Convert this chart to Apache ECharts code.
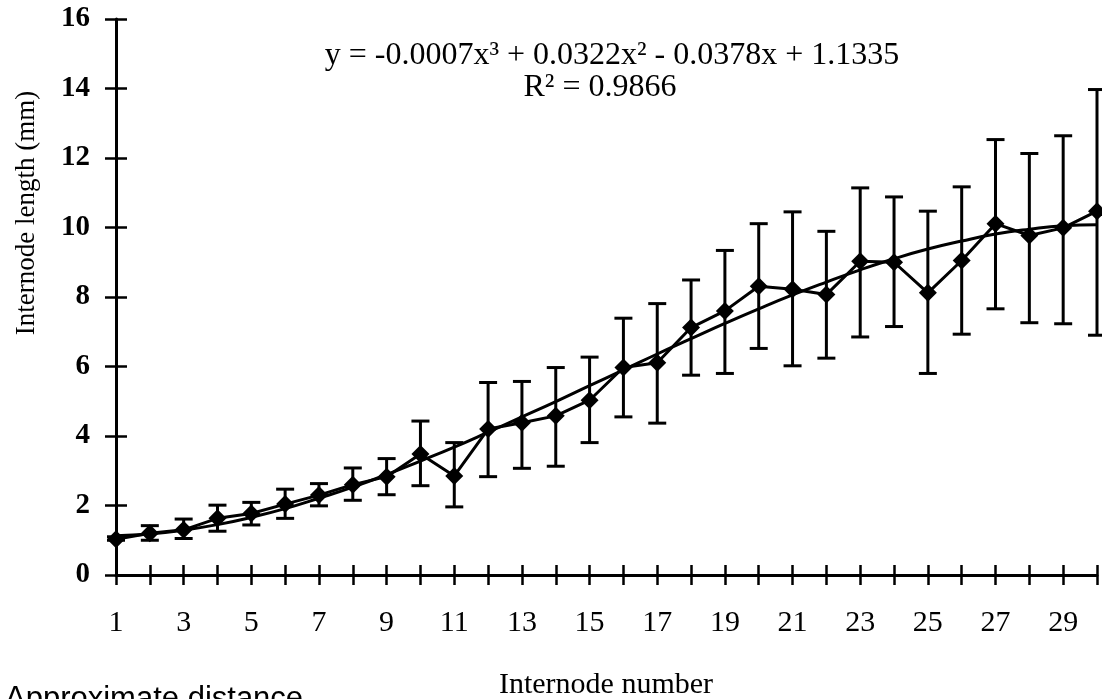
<!DOCTYPE html>
<html>
<head>
<meta charset="utf-8">
<script src="https://cdn.jsdelivr.net/npm/echarts@6/dist/echarts.min.js"></script>
<style>
html,body{margin:0;padding:0;background:#fff;}
#chart{width:1102px;height:699px;}
</style>
</head>
<body>
<div id="chart"></div>
<script>
// Internode number (x)
const internodes = [1,2,3,4,5,6,7,8,9,10,11,12,13,14,15,16,17,18,19,20,21,22,23,24,25,26,27,28,29,30];
// Mean internode length (mm)
const meanLength = [1.03,1.2,1.3,1.63,1.77,2.04,2.3,2.6,2.83,3.48,2.85,4.2,4.38,4.58,5.03,5.97,6.11,7.12,7.6,8.31,8.22,8.07,9.03,9.0,8.12,9.05,10.11,9.77,9.99,10.47];
// Error bar upper / lower ends
const upperEnd = [1.1,1.42,1.61,2.01,2.09,2.47,2.63,3.08,3.35,4.43,3.81,5.54,5.57,5.97,6.27,7.39,7.81,8.49,9.34,10.11,10.45,9.89,11.14,10.88,10.47,11.17,12.53,12.13,12.64,13.97];
const lowerEnd = [1.0,1.0,1.05,1.26,1.44,1.63,1.99,2.15,2.31,2.57,1.96,2.83,3.07,3.13,3.81,4.55,4.37,5.75,5.8,6.52,6.02,6.24,6.85,7.15,5.8,6.93,7.66,7.26,7.23,6.9];
// Polynomial trend line
const trendValues = [1.13,1.18,1.29,1.45,1.66,1.91,2.21,2.53,2.89,3.28,3.68,4.11,4.55,4.99,5.45,5.9,6.36,6.8,7.24,7.66,8.06,8.43,8.78,9.1,9.38,9.61,9.81,9.95,10.05,10.08];
const yTicks = [0,2,4,6,8,10,12,14,16];
const xLabelShown = [1,3,5,7,9,11,13,15,17,19,21,23,25,27,29];
const equationText = 'y = -0.0007x³ + 0.0322x² - 0.0378x + 1.1335';
const r2Text = 'R² = 0.9866';

const serif = '"Liberation Serif", "Times New Roman", serif';
const chart = echarts.init(document.getElementById('chart'), null, {renderer:'canvas'});

const meanData = internodes.map((x,i)=>[x, meanLength[i]]);
const trendData = internodes.map((x,i)=>[x, trendValues[i]]);
const errData = internodes.map((x,i)=>[x, lowerEnd[i], upperEnd[i]]);

const option = {
  backgroundColor:'#fff',
  animation:false,
  grid:{left:116, right:5, top:19, bottom:124, containLabel:false, outerBoundsMode:'none'},
  xAxis:[{
    type:'value', min:1, max:30, interval:1,
    axisLine:{show:true, onZero:false, lineStyle:{color:'#000', width:3}},
    axisTick:{show:true, inside:false, length:10, lineStyle:{color:'#000', width:2.5}},
    splitLine:{show:false},
    axisLabel:{
      margin:33, color:'#000', fontFamily:serif, fontSize:30,
      showMinLabel:true, showMaxLabel:true,
      formatter:function(v){ return xLabelShown.indexOf(v) >= 0 ? String(v) : ''; }
    }
  },{
    type:'value', min:1, max:30, interval:1, position:'bottom',
    axisLine:{show:false},
    axisTick:{show:true, inside:true, length:10, lineStyle:{color:'#000', width:2.5}},
    splitLine:{show:false}, axisLabel:{show:false}
  }],
  yAxis:[{
    type:'value', min:0, max:16, interval:2,
    axisLine:{show:true, onZero:false, lineStyle:{color:'#000', width:3}},
    axisTick:{show:true, inside:false, length:11, lineStyle:{color:'#000', width:2.5}},
    splitLine:{show:false},
    axisLabel:{
      margin:26, color:'#000', fontFamily:serif, fontSize:29, fontWeight:'bold',
      showMinLabel:true, showMaxLabel:true,
      formatter:function(v){ return yTicks.indexOf(v) >= 0 ? String(v) : ''; }
    }
  },{
    type:'value', min:0, max:16, interval:2, position:'left',
    axisLine:{show:false},
    axisTick:{show:true, inside:true, length:11, lineStyle:{color:'#000', width:2.5}},
    splitLine:{show:false}, axisLabel:{show:false}
  }],
  series:[
    {
      type:'line', name:'trend', data:trendData, smooth:true, showSymbol:false, symbol:'none',
      lineStyle:{color:'#000', width:3}, z:2
    },
    {
      type:'custom', name:'error', data:errData, z:3, clip:false,
      renderItem:function(params, api){
        const x = api.value(0);
        const lo = api.coord([x, api.value(1)]);
        const hi = api.coord([x, api.value(2)]);
        const hw = 9;
        const st = {stroke:'#000', lineWidth:3};
        return {type:'group', children:[
          {type:'line', shape:{x1:lo[0], y1:lo[1], x2:hi[0], y2:hi[1]}, style:st},
          {type:'line', shape:{x1:hi[0]-hw, y1:hi[1], x2:hi[0]+hw, y2:hi[1]}, style:st},
          {type:'line', shape:{x1:lo[0]-hw, y1:lo[1], x2:lo[0]+hw, y2:lo[1]}, style:st}
        ]};
      }
    },
    {
      type:'line', name:'mean', data:meanData, symbol:'diamond', symbolSize:18, showSymbol:true,
      lineStyle:{color:'#000', width:3}, itemStyle:{color:'#000'}, z:4
    }
  ],
  graphic:[
    {type:'text', x:612, y:56, style:{text:equationText, fill:'#000', font:'32px ' + serif, textAlign:'center', textVerticalAlign:'middle'}},
    {type:'text', x:600, y:88, style:{text:r2Text, fill:'#000', font:'32px ' + serif, textAlign:'center', textVerticalAlign:'middle'}},
    {type:'text', x:27, y:213, rotation:Math.PI/2, style:{text:'Internode length (mm)', fill:'#000', font:'27px ' + serif, textAlign:'center', textVerticalAlign:'middle'}},
    {type:'text', x:606, y:685, style:{text:'Internode number', fill:'#000', font:'30px ' + serif, textAlign:'center', textVerticalAlign:'middle'}},
    {type:'text', x:5, y:684, style:{text:'Approximate distance', fill:'#000', font:'31px "Liberation Sans", Arial, sans-serif', textAlign:'left', textVerticalAlign:'top'}}
  ]
};
chart.setOption(option);
</script>
</body>
</html>
